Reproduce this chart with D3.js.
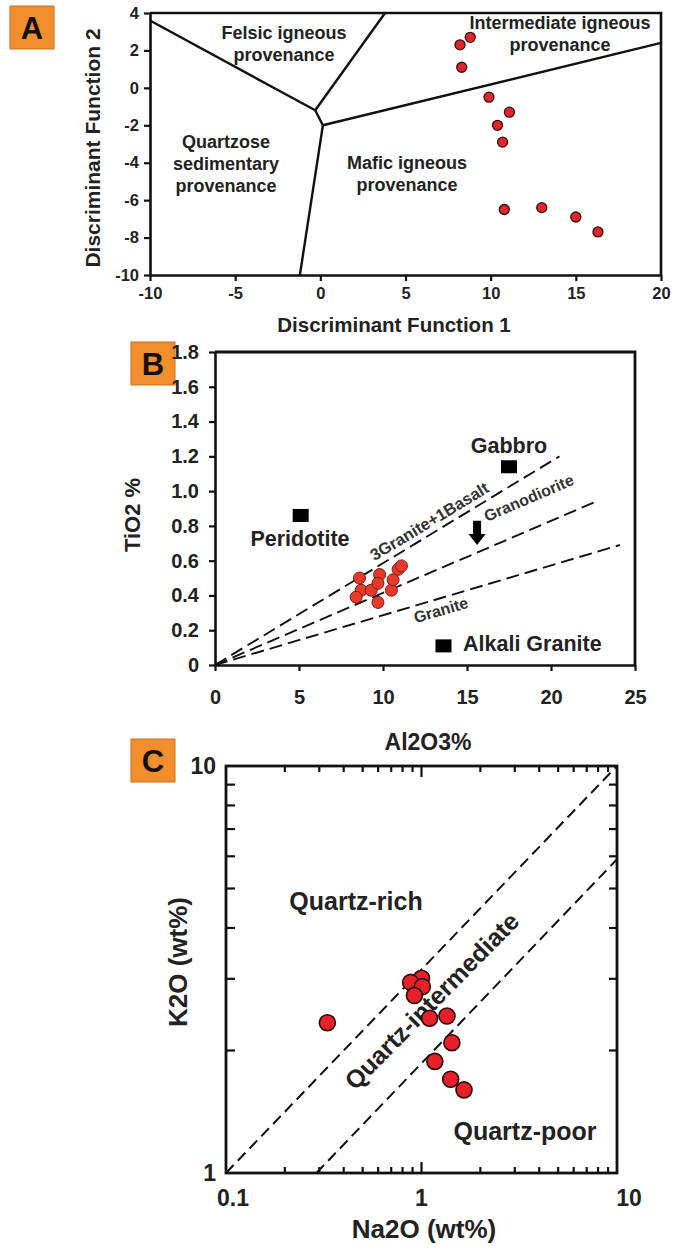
<!DOCTYPE html>
<html><head><meta charset="utf-8">
<script src="https://cdn.jsdelivr.net/npm/d3@7/dist/d3.min.js"></script>
<style>
html,body{margin:0;padding:0;background:#fff;}
svg text{font-family:"Liberation Sans",Arial,Helvetica,sans-serif;font-weight:bold;}
</style></head>
<body>
<svg id="chart" width="675" height="1248"></svg>
<script>
// ---------- Panel A data ----------
const aTicksX = [-10,-5,0,5,10,15,20];
const aTicksY = [-10,-8,-6,-4,-2,0,2,4];
const aDF1 = [8.8, 8.2, 8.3, 9.9, 11.1, 10.4, 10.7, 10.8, 13.0, 15.0, 16.3];
const aDF2 = [2.7, 2.3, 1.1, -0.5, -1.3, -2.0, -2.9, -6.5, -6.4, -6.9, -7.7];
const aFieldLines = [
  [[-10,3.6],[-0.3,-1.2]],
  [[-0.3,-1.2],[3.8,4]],
  [[-0.3,-1.2],[0.15,-2.0]],
  [[0.15,-2.0],[-1.2,-10]],
  [[0.15,-2.0],[20,2.4]]
];
const aFieldNames = [["Felsic igneous","provenance"],["Intermediate igneous","provenance"],["Quartzose","sedimentary","provenance"],["Mafic igneous","provenance"]];

// ---------- Panel B data ----------
const bTicksX = [0,5,10,15,20,25];
const bTicksY = [0,0.2,0.4,0.6,0.8,1.0,1.2,1.4,1.6,1.8];
const bAl2O3 = [8.6, 8.7, 8.4, 9.3, 9.8, 9.7, 9.7, 10.5, 10.6, 10.9, 11.1];
const bTiO2  = [0.50,0.43,0.39,0.43,0.52,0.47,0.36,0.43,0.49,0.55,0.57];
const bRocks = ["Peridotite","Gabbro","Alkali Granite"];
const bRockAl = [5.1, 17.5, 13.6];
const bRockTi = [0.86, 1.14, 0.11];
const bLineNames = ["3Granite+1Basalt","Granodiorite","Granite"];
const bLineEndAl = [20.5, 22.8, 24.1];
const bLineEndTi = [1.20, 0.945, 0.69];
const bArrow = [15.6, 0.83, 0.69]; // x, top, tip

// ---------- Panel C data ----------
const cMajorX = [0.1,1,10];
const cMinorX = [0.2,0.3,0.4,0.5,0.6,0.7,0.8,0.9,2,3,4,5,6,7,8,9];
const cMinorY = [2,3,4,5,6,7,8,9];
const cNa2O = [1.00,0.88,1.01,0.92,1.10,1.35,1.43,1.17,1.41,1.65,0.33];
const cK2O  = [3.01,2.94,2.87,2.73,2.40,2.43,2.09,1.88,1.70,1.60,2.34];
const cLines = [[[0.1,1],[10,10]],[[0.29,1],[10,5.9]]];

const svg = d3.select("#chart");
const ink = "#111";
const txt = "#222";

function labelBox(x,y,t){
  svg.append("rect").attr("x",x).attr("y",y).attr("width",44).attr("height",43)
    .attr("fill","#F28E2B").attr("stroke","#c9701f").attr("stroke-width",1);
  svg.append("text").attr("x",x+22).attr("y",y+33).attr("text-anchor","middle")
    .attr("font-size",31).attr("fill","#111").text(t);
}
function styleAxis(g,fs){
  g.select(".domain").attr("stroke",ink).attr("stroke-width",2.6);
  g.selectAll(".tick line").attr("stroke",ink).attr("stroke-width",2.2);
  g.selectAll(".tick text").attr("font-size",fs).attr("fill",txt)
    .style("font-family",'"Liberation Sans",Arial,sans-serif').style("font-weight","bold");
}

// ================= PANEL A =================
labelBox(10,6,"A");
const xA = d3.scaleLinear([-10,20],[150,661]);
const yA = d3.scaleLinear([-10,4],[275,13]);
const gA = svg.append("g");
gA.append("path").attr("d",`M${xA(-10)},${yA(4)}H${xA(20)}V${yA(-10)}`)
  .attr("fill","none").attr("stroke",ink).attr("stroke-width",2.6);
const axAx = gA.append("g").attr("transform",`translate(0,${yA(-10)})`)
  .call(d3.axisBottom(xA).tickValues(aTicksX).tickSize(6).tickSizeOuter(0).tickPadding(6).tickFormat(d=>String(d)));
styleAxis(axAx,16.5);
const axAy = gA.append("g").attr("transform",`translate(${xA(-10)},0)`)
  .call(d3.axisLeft(yA).tickValues(aTicksY).tickSize(6).tickSizeOuter(0).tickPadding(5).tickFormat(d=>String(d)));
styleAxis(axAy,16.5);
gA.selectAll(".field").data(aFieldLines).join("line")
  .attr("x1",d=>xA(d[0][0])).attr("y1",d=>yA(d[0][1]))
  .attr("x2",d=>xA(d[1][0])).attr("y2",d=>yA(d[1][1]))
  .attr("stroke",ink).attr("stroke-width",2.4);
const aLabelPos = [[284,39],[560,29],[226,148],[407,169]];
aFieldNames.forEach((lines,i)=>{
  const t = gA.append("text").attr("text-anchor","middle").attr("font-size",18).attr("fill",txt);
  lines.forEach((s,j)=>t.append("tspan").attr("x",aLabelPos[i][0]).attr("y",aLabelPos[i][1]+j*22).text(s));
});
gA.selectAll(".pa").data(aDF1).join("circle")
  .attr("cx",d=>xA(d)).attr("cy",(d,i)=>yA(aDF2[i])).attr("r",5)
  .attr("fill","#e0262b").attr("stroke","#3a0b0b").attr("stroke-width",1.3);
gA.append("text").attr("transform",`translate(100,148) rotate(-90)`).attr("text-anchor","middle")
  .attr("font-size",21).attr("fill",txt).text("Discriminant Function 2");
gA.append("text").attr("x",394).attr("y",332).attr("text-anchor","middle")
  .attr("font-size",20.5).attr("fill",txt).text("Discriminant Function 1");

// ================= PANEL B =================
labelBox(131,342,"B");
const xB = d3.scaleLinear([0,25],[215,635]);
const yB = d3.scaleLinear([0,1.8],[665,352]);
const gB = svg.append("g");
gB.append("path").attr("d",`M${xB(0)},${yB(1.8)}H${xB(25)}V${yB(0)}`)
  .attr("fill","none").attr("stroke",ink).attr("stroke-width",2.8);
const bxAx = gB.append("g").attr("transform",`translate(0,${yB(0)})`)
  .call(d3.axisBottom(xB).tickValues(bTicksX).tickSize(6).tickSizeOuter(0).tickPadding(19).tickFormat(d=>String(d)));
styleAxis(bxAx,20);
const bxAy = gB.append("g").attr("transform",`translate(${xB(0)},0)`)
  .call(d3.axisLeft(yB).tickValues(bTicksY).tickSize(6).tickSizeOuter(0).tickPadding(10).tickFormat(d=>d===0?"0":d3.format(".1f")(d)));
styleAxis(bxAy,20);
gB.selectAll(".ml").data(bLineEndAl).join("line")
  .attr("x1",xB(0)).attr("y1",yB(0))
  .attr("x2",d=>xB(d)).attr("y2",(d,i)=>yB(bLineEndTi[i]))
  .attr("stroke",ink).attr("stroke-width",1.9).attr("stroke-dasharray","13,6");
const bLabelT = [0.64, 0.0, 0.55];
const bLabelFix = [null,[531,503],null];
const bLabelOff = [-6, 0, 17];
const bLabelSize = [16.5, 16, 16];
bLineNames.forEach((name,i)=>{
  const x0=xB(0), y0=yB(0), x1=xB(bLineEndAl[i]), y1=yB(bLineEndTi[i]);
  const ang = Math.atan2(y1-y0,x1-x0)*180/Math.PI;
  let px, py;
  if(bLabelFix[i]){ px=bLabelFix[i][0]; py=bLabelFix[i][1]; }
  else { px = x0+(x1-x0)*bLabelT[i]; py = y0+(y1-y0)*bLabelT[i]; }
  gB.append("text").attr("transform",`translate(${px},${py}) rotate(${ang})`)
    .attr("text-anchor","middle").attr("dy",bLabelOff[i]).attr("font-size",bLabelSize[i]).attr("fill","#333").text(name);
});
{
  const ax=xB(bArrow[0]), yt=yB(bArrow[1]), yp=yB(bArrow[2]);
  const hh = 11;
  gB.append("path").attr("d",`M${ax-4},${yt}H${ax+4}V${yp-hh}H${ax+8.5}L${ax},${yp}L${ax-8.5},${yp-hh}H${ax-4}Z`)
    .attr("fill","#000");
}
gB.selectAll(".rk").data(bRockAl).join("rect")
  .attr("x",d=>xB(d)-8).attr("y",(d,i)=>yB(bRockTi[i])-6.5).attr("width",16).attr("height",13).attr("fill","#000");
const rockLab = [[300,546,"middle"],[509,453,"middle"],[463,651,"start"]];
bRocks.forEach((r,i)=>{
  gB.append("text").attr("x",rockLab[i][0]).attr("y",rockLab[i][1]).attr("text-anchor",rockLab[i][2])
    .attr("font-size",21.5).attr("fill",txt).text(r);
});
gB.selectAll(".pb").data(bAl2O3).join("circle")
  .attr("cx",d=>xB(d)).attr("cy",(d,i)=>yB(bTiO2[i])).attr("r",6)
  .attr("fill","#e8392a").attr("stroke","#7a1a10").attr("stroke-width",1);
gB.append("text").attr("transform",`translate(140,515) rotate(-90)`).attr("text-anchor","middle")
  .attr("font-size",22).attr("fill",txt).text("TiO2 %");
gB.append("text").attr("x",428).attr("y",750).attr("text-anchor","middle")
  .attr("font-size",23).attr("fill",txt).text("Al2O3%");

// ================= PANEL C =================
labelBox(131,739,"C");
const xC = d3.scaleLog([0.1,10],[226,617]);
const yC = d3.scaleLog([1,10],[1173,766]);
const gC = svg.append("g");
gC.append("rect").attr("x",xC(0.1)).attr("y",yC(10)).attr("width",xC(10)-xC(0.1)).attr("height",yC(1)-yC(10))
  .attr("fill","none").attr("stroke",ink).attr("stroke-width",2.8);
const xtk = cMinorX.map(v=>({v,l:6})).concat([{v:1,l:11}]);
gC.selectAll(".xtb").data(xtk).join("line")
  .attr("x1",d=>xC(d.v)).attr("x2",d=>xC(d.v)).attr("y1",yC(1)).attr("y2",d=>yC(1)-d.l)
  .attr("stroke",ink).attr("stroke-width",2.2);
gC.selectAll(".xtt").data(xtk).join("line")
  .attr("x1",d=>xC(d.v)).attr("x2",d=>xC(d.v)).attr("y1",yC(10)).attr("y2",d=>yC(10)+d.l)
  .attr("stroke",ink).attr("stroke-width",2.2);
gC.selectAll(".ytl").data(cMinorY).join("line")
  .attr("y1",d=>yC(d)).attr("y2",d=>yC(d)).attr("x1",xC(0.1)).attr("x2",xC(0.1)+9)
  .attr("stroke",ink).attr("stroke-width",2.2);
gC.selectAll(".ytr").data(cMinorY).join("line")
  .attr("y1",d=>yC(d)).attr("y2",d=>yC(d)).attr("x1",xC(10)).attr("x2",xC(10)-8)
  .attr("stroke",ink).attr("stroke-width",2.2);
const cXlabDx = [7,0,12];
gC.selectAll(".xl").data(cMajorX).join("text")
  .attr("x",(d,i)=>xC(d)+cXlabDx[i]).attr("y",yC(1)+33).attr("text-anchor","middle")
  .attr("font-size",23).attr("fill",txt).text(d=>String(d));
gC.selectAll(".yl").data([1,10]).join("text")
  .attr("x",xC(0.1)-10).attr("y",d=>yC(d)+8).attr("text-anchor","end")
  .attr("font-size",23).attr("fill",txt).text(d=>String(d));
gC.selectAll(".dl").data(cLines).join("line")
  .attr("x1",d=>xC(d[0][0])).attr("y1",d=>yC(d[0][1]))
  .attr("x2",d=>xC(d[1][0])).attr("y2",d=>yC(d[1][1]))
  .attr("stroke",ink).attr("stroke-width",2).attr("stroke-dasharray","11,6");
gC.append("text").attr("x",356).attr("y",910).attr("text-anchor","middle").attr("font-size",25).attr("fill",txt).text("Quartz-rich");
gC.append("text").attr("x",525).attr("y",1140).attr("text-anchor","middle").attr("font-size",25).attr("fill",txt).text("Quartz-poor");
gC.append("text").attr("transform","translate(438,1007) rotate(-45.5)").attr("text-anchor","middle").attr("font-size",25).attr("fill",txt).text("Quartz-intermediate");
gC.selectAll(".pc").data(cNa2O).join("circle")
  .attr("cx",d=>xC(d)).attr("cy",(d,i)=>yC(cK2O[i])).attr("r",8)
  .attr("fill","#e8202a").attr("stroke","#2a0808").attr("stroke-width",1.6);
gC.append("text").attr("transform","translate(187,962) rotate(-90)").attr("text-anchor","middle")
  .attr("font-size",26).attr("fill",txt).text("K2O (wt%)");
gC.append("text").attr("x",424).attr("y",1238).attr("text-anchor","middle")
  .attr("font-size",26).attr("fill",txt).text("Na2O (wt%)");
</script>
</body></html>
